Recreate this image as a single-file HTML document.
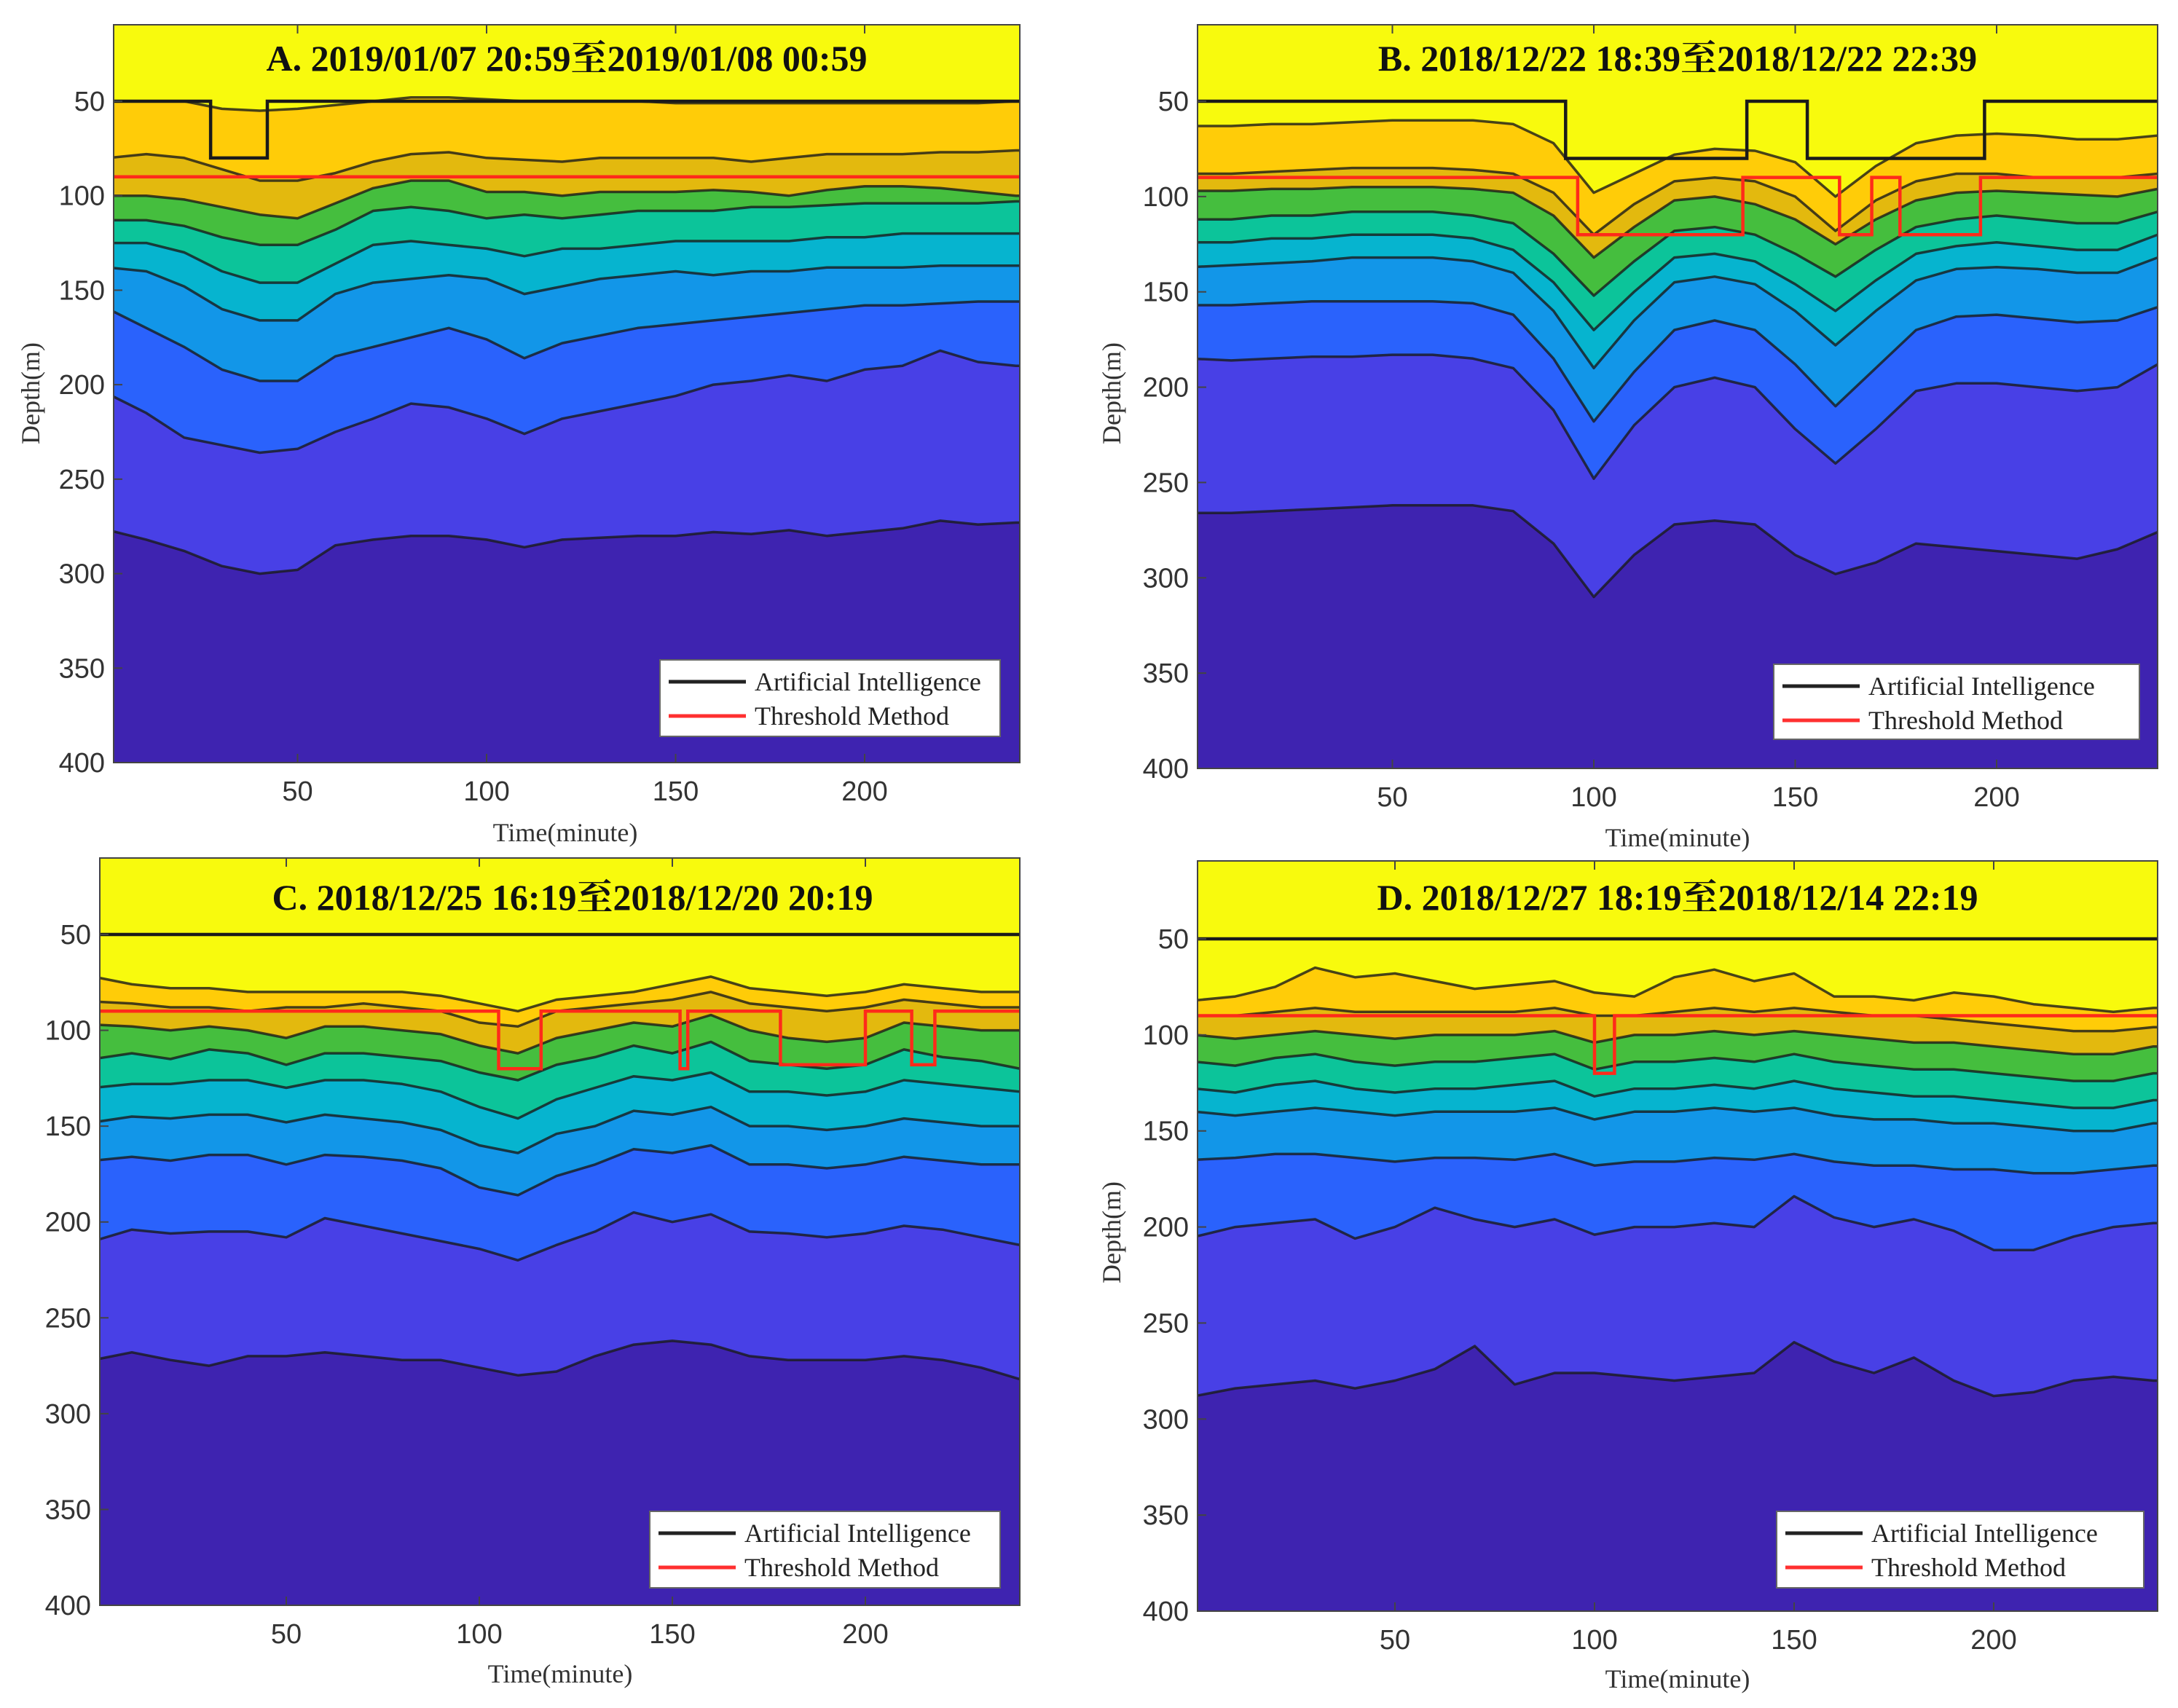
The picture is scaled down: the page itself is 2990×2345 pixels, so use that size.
<!DOCTYPE html>
<html><head><meta charset="utf-8">
<style>
html,body{margin:0;padding:0;background:#fff;}
svg{display:block;}
.tick{font-family:"Liberation Sans",sans-serif;font-size:38px;fill:#333;}
.ttl{font-family:"Liberation Serif","Noto Serif CJK SC",serif;font-size:50px;font-weight:bold;fill:#111;}
.lab{font-family:"Liberation Serif",serif;font-size:36px;fill:#333;}
.leg{font-family:"Liberation Serif",serif;font-size:36px;fill:#222;}
</style></head>
<body>
<svg id="chart" width="2990" height="2345" viewBox="0 0 2990 2345" xmlns="http://www.w3.org/2000/svg"></svg>
<script>
// ---- data ----
const times = [0,10,20,30,40,50,60,70,80,90,100,110,120,130,140,150,160,170,180,190,200,210,220,230,240];
const yTicks = [50,100,150,200,250,300,350,400];
const xTicks = [50,100,150,200];
const bandColors = ["#f8fa0d","#ffcc08","#e3b90e","#45be3e","#0cc49a","#06b4cf","#1296e8","#2a62fc","#4840e6","#3e23b0"];

const linesA = [
[50,50,50,54,55,54,52,50,48,48,49,50,50,50,50,51,51,51,51,51,51,51,51,51,50],
[80,78,80,86,92,92,88,82,78,77,80,81,82,80,80,80,80,82,80,78,78,78,77,77,76],
[100,100,102,106,110,112,104,96,92,92,98,98,100,98,98,98,97,98,100,97,95,95,96,98,100],
[113,113,116,122,126,126,118,108,106,108,112,110,112,110,108,108,108,106,106,105,104,104,104,104,103],
[125,125,130,140,146,146,136,126,124,126,128,132,128,128,126,124,124,124,124,122,122,120,120,120,120],
[138,140,148,160,166,166,152,146,144,142,144,152,148,144,142,140,142,140,140,138,138,138,137,137,137],
[160,170,180,192,198,198,185,180,175,170,176,186,178,174,170,168,166,164,162,160,158,158,157,156,156],
[205,215,228,232,236,234,225,218,210,212,218,226,218,214,210,206,200,198,195,198,192,190,182,188,190],
[277,282,288,296,300,298,285,282,280,280,282,286,282,281,280,280,278,279,277,280,278,276,272,274,273]];
const linesB = [
[63,63,62,62,61,60,60,60,62,72,98,88,78,75,76,82,100,84,72,68,67,68,70,70,68],
[88,88,87,86,85,85,85,86,88,98,120,104,92,90,92,100,118,102,92,88,88,90,90,90,88],
[97,97,96,96,95,95,95,96,98,110,132,116,102,100,104,112,125,112,102,98,97,98,99,100,96],
[112,112,110,110,108,108,108,110,114,130,152,134,118,116,120,130,142,128,116,112,110,112,114,114,108],
[124,124,122,122,120,120,120,122,128,145,170,150,132,130,134,146,160,144,130,126,124,126,128,128,120],
[137,136,135,134,132,132,132,134,140,160,190,165,145,142,146,160,178,160,144,138,137,138,140,140,132],
[157,157,156,155,155,155,155,156,162,185,218,192,170,165,170,188,210,190,170,163,162,164,166,165,158],
[185,186,185,184,184,183,183,185,190,212,248,220,200,195,200,222,240,222,202,198,198,200,202,200,188],
[266,266,265,264,263,262,262,262,265,282,310,288,272,270,272,288,298,292,282,284,286,288,290,285,276]];
const linesC = [
[72,76,78,78,80,80,80,80,80,82,86,90,84,82,80,76,72,78,80,82,80,76,78,80,80],
[85,86,88,88,90,88,88,86,88,90,96,98,90,88,86,84,80,86,88,90,88,84,86,88,88],
[97,98,100,98,100,104,98,98,100,102,108,112,104,100,96,98,92,100,104,106,104,96,98,100,100],
[115,112,115,110,112,118,112,112,114,116,122,126,118,114,108,112,106,116,118,120,118,110,114,116,120],
[130,128,128,126,126,130,126,126,128,132,140,146,136,130,124,126,122,132,132,134,132,126,128,130,132],
[148,145,146,144,144,148,144,146,148,152,160,164,154,150,142,144,140,150,150,152,150,146,148,150,150],
[168,166,168,165,165,170,165,166,168,172,182,186,176,170,162,164,160,170,170,172,170,166,168,170,170],
[210,204,206,205,205,208,198,202,206,210,214,220,212,205,195,200,196,205,206,208,206,202,204,208,212],
[272,268,272,275,270,270,268,270,272,272,276,280,278,270,264,262,264,270,272,272,272,270,272,276,282]];
const linesD = [
[82,80,75,65,70,68,72,76,74,72,78,80,70,66,72,68,80,80,82,78,80,84,86,88,86],
[90,90,88,86,88,88,88,88,88,86,90,90,88,86,88,86,88,90,90,92,94,96,98,98,96],
[100,102,100,98,100,102,100,100,100,98,104,100,100,98,100,98,100,102,104,104,106,108,110,110,106],
[114,116,112,110,114,116,114,114,112,110,118,114,114,112,114,110,114,116,118,118,120,122,124,124,120],
[128,130,126,124,128,130,128,128,126,124,132,128,128,126,128,124,128,130,132,132,134,136,138,138,134],
[140,142,140,138,140,142,140,140,140,138,144,140,140,138,140,138,142,144,144,146,146,148,150,150,146],
[165,164,162,162,164,166,164,164,165,162,168,166,166,164,165,162,166,168,168,170,170,172,172,170,168],
[205,200,198,196,206,200,190,196,200,196,204,200,200,198,200,184,195,200,196,202,212,212,205,200,198],
[288,284,282,280,284,280,274,262,282,276,276,278,280,278,276,260,270,276,268,280,288,286,280,278,280]];

const aiStartsA=[0,27,42], aiValsA=[50,80,50];
const thStartsA=[0], thValsA=[90];
const aiStartsB=[0,93,138,153,197], aiValsB=[50,80,50,80,50];
const thStartsB=[0,96,137,161,169,176,196], thValsB=[90,120,90,120,90,120,90];
const aiStartsC=[0], aiValsC=[50];
const thStartsC=[0,105,116,152,154,178,200,212,218], thValsC=[90,120,90,120,90,118,90,118,90];
const aiStartsD=[0], aiValsD=[50];
const thStartsD=[0,100,105], thValsD=[90,120,90];

const titles=["A. 2019/01/07 20:59至2019/01/08 00:59","B. 2018/12/22 18:39至2018/12/22 22:39","C. 2018/12/25 16:19至2018/12/20 20:19","D. 2018/12/27 18:19至2018/12/14 22:19"];

// ---- layout ----
const panels=[
 {id:"a",L:156,R:1400,T:34,B:1047,y50:139,y400:1047,x0:149,pxm:5.19,lines:linesA,ai:[aiStartsA,aiValsA],th:[thStartsA,thValsA],title:[778,97],leg:[906,906,467,105],xl:[776,1155],yl:[42,540]},
 {id:"b",L:1644,R:2962,T:34,B:1055,y50:139,y400:1055,x0:1635,pxm:5.53,lines:linesB,ai:[aiStartsB,aiValsB],th:[thStartsB,thValsB],title:[2303,97],leg:[2435,912,502,103],xl:[2303,1162],yl:[1526,540]},
 {id:"c",L:137,R:1400,T:1178,B:2204,y50:1283,y400:2204,x0:128,pxm:5.3,lines:linesC,ai:[aiStartsC,aiValsC],th:[thStartsC,thValsC],title:[786,1249],leg:[892,2075,481,105],xl:[769,2310],yl:null},
 {id:"d",L:1644,R:2962,T:1182,B:2212,y50:1289,y400:2212,x0:1641,pxm:5.48,lines:linesD,ai:[aiStartsD,aiValsD],th:[thStartsD,thValsD],title:[2303,1249],leg:[2439,2075,504,105],xl:[2303,2317],yl:[1526,1692]}
];
const NS="http://www.w3.org/2000/svg";
const svg=document.getElementById("chart");
function mk(tag,attrs,parent){const e=document.createElementNS(NS,tag);for(const k in attrs)e.setAttribute(k,attrs[k]);(parent||svg).appendChild(e);return e;}
const defs=mk("defs",{});

panels.forEach((p,pi)=>{
  const xs=t=>p.x0+t*p.pxm;
  const ys=d=>p.y50+(d-50)*(p.y400-p.y50)/350;
  const linePts=ln=>{
    const pts=ln.map((d,j)=>xs(times[j]).toFixed(1)+","+ys(d).toFixed(1));
    pts.unshift((p.L-10)+","+ys(ln[0]).toFixed(1));
    pts.push((p.R+10)+","+ys(ln[ln.length-1]).toFixed(1));
    return pts;
  };
  const g=mk("g",{});
  
  
  const cp=mk("clipPath",{id:"clip"+p.id},defs);
  mk("rect",{x:p.L,y:p.T,width:p.R-p.L,height:p.B-p.T},cp);
  const plot=mk("g",{"clip-path":"url(#clip"+p.id+")"},g);
  const bg=mk("rect",{x:p.L,y:p.T,width:p.R-p.L,height:p.B-p.T,fill:bandColors[0]},plot);
  
  
  p.lines.forEach((ln,i)=>{
    const pts=linePts(ln);
    const poly=mk("polygon",{points:pts.join(" ")+" "+(p.R+10)+","+(p.B+10)+" "+(p.L-10)+","+(p.B+10),fill:bandColors[i+1]},plot);
    
    
  });
  p.lines.forEach((ln,i)=>{
    const pl=mk("polyline",{points:linePts(ln).join(" "),fill:"none",stroke:"#1a1a1a","stroke-opacity":"0.8","stroke-width":"3.5","stroke-linejoin":"round"},plot);
    
    
  });
  function step(starts,vals,color,name){
    let pts=[];
    for(let k=0;k<starts.length;k++){
      const end=k+1<starts.length?starts[k+1]:250;
      pts.push(xs(starts[k])+","+ys(vals[k]));pts.push(xs(end)+","+ys(vals[k]));
    }
    const s=mk("polyline",{points:pts.join(" "),fill:"none",stroke:color,"stroke-width":"4.5"},plot);
    
    
  }
  step(p.th[0],p.th[1],"#ff2a1a","threshold-method-line");
  step(p.ai[0],p.ai[1],"#1a1a1a","artificial-intelligence-line");
  const fr=mk("rect",{x:p.L,y:p.T,width:p.R-p.L,height:p.B-p.T,fill:"none",stroke:"#444","stroke-width":"2"},g);
  
  
  yTicks.forEach(v=>{
    const y=ys(v);
    mk("line",{x1:p.L,x2:p.L+12,y1:y,y2:y,stroke:"#444","stroke-width":"2"},g);
    const t=mk("text",{x:p.L-12,y:y+13,"text-anchor":"end",class:"tick"},g);t.textContent=v;
    
    
  });
  xTicks.forEach(v=>{
    const x=xs(v);
    mk("line",{x1:x,x2:x,y1:p.B,y2:p.B-12,stroke:"#444","stroke-width":"2"},g);
    mk("line",{x1:x,x2:x,y1:p.T,y2:p.T+12,stroke:"#444","stroke-width":"2"},g);
    const t=mk("text",{x:x,y:p.B+52,"text-anchor":"middle",class:"tick"},g);t.textContent=v;
    
    
  });
  const ti=mk("text",{x:p.title[0],y:p.title[1],"text-anchor":"middle",class:"ttl"},g);ti.textContent=titles[pi];
  
  
  const xl=mk("text",{x:p.xl[0],y:p.xl[1],"text-anchor":"middle",class:"lab"},g);xl.textContent="Time(minute)";
  
  
  if(p.yl){
    const yl=mk("text",{x:p.yl[0],y:p.yl[1],"text-anchor":"middle",class:"lab",transform:"rotate(-90 "+p.yl[0]+" "+p.yl[1]+")",dy:"12"},g);yl.textContent="Depth(m)";
    
    
  }
  const [lx,ly,lw,lh]=p.leg;
  const lg=mk("g",{},g);
  
  
  mk("rect",{x:lx,y:ly,width:lw,height:lh,fill:"#fff",stroke:"#666","stroke-width":"2"},lg);
  mk("line",{x1:lx+12,x2:lx+118,y1:ly+30,y2:ly+30,stroke:"#222","stroke-width":"5"},lg);
  mk("line",{x1:lx+12,x2:lx+118,y1:ly+77,y2:ly+77,stroke:"#ff3030","stroke-width":"5"},lg);
  const e1=mk("text",{x:lx+130,y:ly+42,class:"leg"},lg);e1.textContent="Artificial Intelligence";
  
  
  const e2=mk("text",{x:lx+130,y:ly+89,class:"leg"},lg);e2.textContent="Threshold Method";
  
  
});
</script>
</body></html>
